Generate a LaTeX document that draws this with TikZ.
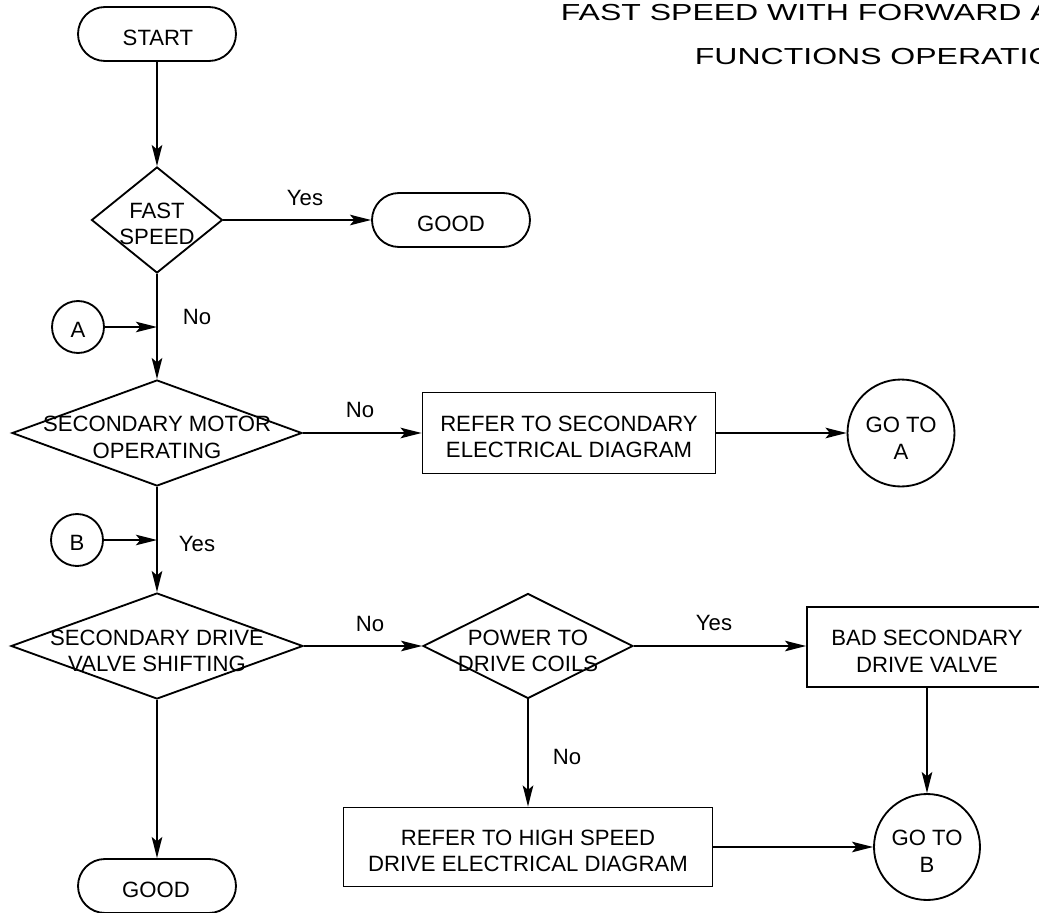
\documentclass[tikz,border=0pt]{standalone}
\usepackage{graphicx}
\usepackage{fontspec}
\setmainfont{Liberation Sans}
\usetikzlibrary{shapes.geometric,arrows.meta}
\begin{document}
\begin{tikzpicture}[x=0.02cm,y=-0.02cm, line width=1.05pt,
  every node/.style={font=\fontsize{12.6}{15.2}\selectfont, align=center, inner sep=0pt},
  term/.style={draw, rectangle, rounded corners=0.54cm, minimum width=3.16cm, minimum height=1.08cm},
  dia/.style={draw, diamond, minimum height=2.12cm},
  procbox/.style={draw, rectangle},
  conn/.style={draw, circle},
  arr/.style={-{Stealth[length=12pt,width=6pt,inset=2.5pt]}},
  titletext/.style={anchor=base west, font=\fontsize{13.2}{16}\selectfont}]
\useasboundingbox (0,0) rectangle (1039,913);

% title
\node[titletext] (title1) at (560,20) {\scalebox{1.38}[1]{FAST SPEED WITH FORWARD A}};
\node[titletext] (title2) at (694,64) {\scalebox{1.38}[1]{FUNCTIONS OPERATIO}};

% shapes
\node[term] (start) at (157,34) {};
\node[dia, minimum width=2.62cm] (fast) at (157,220) {};
\node[term] (good1) at (451,220) {};
\node[conn, minimum size=1.04cm] (A) at (78,327) {};
\node[dia, minimum width=5.8cm] (motor) at (157,433) {};
\node[procbox, minimum width=5.86cm, minimum height=1.62cm] (refsec) at (569,433) {};
\node[conn, minimum size=2.14cm] (gotoA) at (901,433) {};
\node[conn, minimum size=1.04cm] (B) at (77,540) {};
\node[dia, minimum width=5.84cm] (valve) at (157,646) {};
\node[dia, minimum width=4.2cm, minimum height=2.1cm] (power) at (528,646) {};
\node[procbox, minimum width=4.8cm, minimum height=1.6cm] (bad) at (927,647) {};
\node[procbox, minimum width=7.38cm, minimum height=1.58cm] (refhigh) at (528,847) {};
\node[conn, minimum size=2.12cm] (gotoB) at (927,847) {};
\node[term] (good2) at (157,886) {};

% texts
\node (startt) at (158,37.5) {START};
\node (fastt) at (157,224) {FAST\\SPEED};
\node (good1t) at (451,223.5) {GOOD};
\node (At) at (78,330) {A};
\node (motort) at (157,437.5) {SECONDARY MOTOR\\OPERATING};
\node (refsect) at (569,437) {REFER TO SECONDARY\\ELECTRICAL DIAGRAM};
\node (gotoAt) at (901,438) {GO TO\\A};
\node (Bt) at (77,543) {B};
\node (valvet) at (157,651) {SECONDARY DRIVE\\VALVE SHIFTING};
\node (powert) at (528,651) {POWER TO\\DRIVE COILS};
\node (badt) at (927,651) {BAD SECONDARY\\DRIVE VALVE};
\node (refhight) at (528,851) {REFER TO HIGH SPEED\\DRIVE ELECTRICAL DIAGRAM};
\node (gotoBt) at (927,851) {GO TO\\B};
\node (good2t) at (156,889.5) {GOOD};

% labels
\node (yes1) at (305,198) {Yes};
\node (no1) at (197,317) {No};
\node (no2) at (360,410) {No};
\node (yes2) at (197,544) {Yes};
\node (no3) at (370,624) {No};
\node (yes3) at (714,623) {Yes};
\node (no4) at (567,757) {No};

% connectors
\draw[arr] (start.south) -- (fast.north);
\draw[arr] (fast.east) -- (good1.west);
\draw[arr] (fast.south) -- (motor.north);
\draw[arr] (A) -- (A -| fast.south);
\draw[arr] (motor.east) -- (refsec.west);
\draw[arr] (refsec.east) -- (gotoA.west);
\draw[arr] (motor.south) -- (valve.north);
\draw[arr] (B) -- (B -| motor.south);
\draw[arr] (valve.east) -- (power.west);
\draw[arr] (power.east) -- (power.east -| bad.west);
\draw[arr] (bad.south) -- (gotoB.north);
\draw[arr] (power.south) -- (refhigh.north);
\draw[arr] (refhigh.east) -- (gotoB.west);
\draw[arr] (valve.south) -- (good2.north);
\end{tikzpicture}
\end{document}
